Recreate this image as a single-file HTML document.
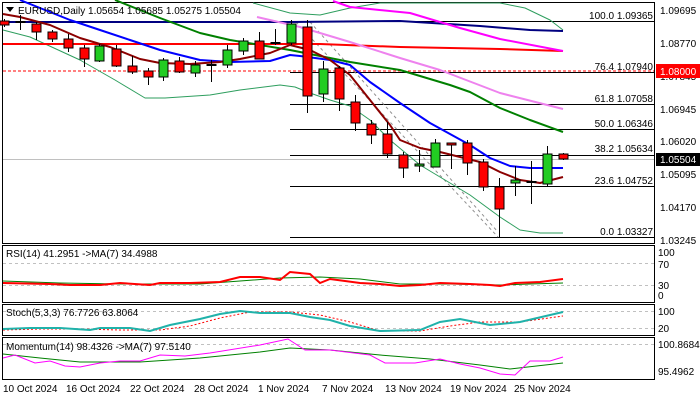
<!DOCTYPE html>
<html><head><meta charset="utf-8"><style>
body{margin:0;background:#fff}
svg{display:block;font-family:"Liberation Sans",sans-serif}
text{font-size:10px}
</style></head><body>
<svg width="700" height="400" viewBox="0 0 700 400" xmlns="http://www.w3.org/2000/svg">
<rect width="700" height="400" fill="#fff"/>
<!-- panels -->
<rect x="2.5" y="2.5" width="652" height="241" fill="none" stroke="#000"/>
<rect x="2.5" y="245.5" width="652" height="57" fill="none" stroke="#000"/>
<rect x="2.5" y="304.5" width="652" height="31" fill="none" stroke="#000"/>
<rect x="2.5" y="337.5" width="652" height="42" fill="none" stroke="#000"/>
<!-- price lines -->
<line x1="3" y1="159.5" x2="654" y2="159.5" stroke="#c0c0c0"/>
<line x1="3" y1="71" x2="654" y2="71" stroke="#f00" stroke-dasharray="3,2"/>
<!-- fib lines -->
<g stroke="#000" stroke-width="1">
<line x1="290" y1="21.5" x2="654" y2="21.5"/>
<line x1="290" y1="72.5" x2="654" y2="72.5"/>
<line x1="290" y1="104.5" x2="654" y2="104.5"/>
<line x1="290" y1="129.5" x2="654" y2="129.5"/>
<line x1="290" y1="155.5" x2="654" y2="155.5"/>
<line x1="290" y1="186.5" x2="654" y2="186.5"/>
<line x1="290" y1="237.5" x2="654" y2="237.5"/>
</g>
<g fill="#000" text-anchor="end">
<text x="653" y="19">100.0 1.09365</text>
<text x="653" y="70">76.4 1.07940</text>
<text x="653" y="102">61.8 1.07058</text>
<text x="653" y="127">50.0 1.06346</text>
<text x="653" y="152">38.2 1.05634</text>
<text x="653" y="184">23.6 1.04752</text>
<text x="653" y="235">0.0 1.03327</text>
</g>
<g stroke="#909090" stroke-dasharray="3,3" fill="none">
<line x1="296" y1="22" x2="498" y2="237"/>
<line x1="310" y1="22" x2="498" y2="232"/>
</g>
<!-- MAs -->
<g fill="none" stroke-linejoin="round">
<polyline stroke="#2e9e5e" stroke-width="1" points="3,30 30,37 80,60 115,80 145,98 165,98 210,95 240,90 280,85 295,87 310,93 330,100 350,106 370,120 390,140 420,165 450,183 470,195 500,217 520,230 540,233 563,233"/>
<polyline stroke="#2e9e5e" stroke-width="1" points="253,3 290,13 320,15 350,8 380,3 500,3 525,8 550,20 563,30"/>
<polyline stroke="#000080" stroke-width="2" points="3,22 290,22 400,21 480,26 530,30 563,31"/>
<polyline stroke="#ff0000" stroke-width="2" points="3,44 320,44 400,47 500,49 563,51"/>
<polyline stroke="#ff00ff" stroke-width="2" points="333,1 350,7 410,13 460,28 500,39 563,51"/>
<polyline stroke="#ee82ee" stroke-width="2" points="257,17 300,27 350,42 400,58 440,70 500,93 563,109"/>
<polyline stroke="#008000" stroke-width="2" points="115,0 160,18 200,33 230,40 290,50 350,62 400,70 450,85 470,92 500,108 530,120 563,132"/>
<polyline stroke="#0000ff" stroke-width="2" points="20,0 45,10 70,20 100,30 130,40 160,50 200,60 230,62 270,61 290,55 300,56 330,60 350,65 370,82 400,103 430,123 450,134 470,145 490,158 510,166 530,168 563,168"/>
<polyline stroke="#8b0000" stroke-width="2" points="3,14 20,17 50,25 80,38 110,47 140,59 160,63 190,64 220,62 240,59 270,53 290,45 310,50 330,60 350,75 370,100 390,125 400,140 420,148 440,152 460,157 480,162 500,172 520,180 540,183 563,177"/>
</g>
<!-- candles -->
<g stroke="#000" stroke-width="1" id="c">
<line x1="4.5" y1="19" x2="4.5" y2="27"/><rect x="0" y="21" width="9" height="4" fill="#f00"/>
<line x1="20.5" y1="15" x2="20.5" y2="30"/><rect x="16" y="21.5" width="9" height="1" fill="#2c2"/>
<line x1="36.5" y1="22" x2="36.5" y2="40"/><rect x="32" y="24" width="9" height="8" fill="#f00"/>
<line x1="52.5" y1="30" x2="52.5" y2="42"/><rect x="48" y="32" width="9" height="7" fill="#f00"/>
<line x1="68.5" y1="34" x2="68.5" y2="52"/><rect x="64" y="39" width="9" height="9" fill="#f00"/>
<line x1="84.5" y1="45" x2="84.5" y2="67"/><rect x="80" y="48" width="9" height="11" fill="#f00"/>
<line x1="99.5" y1="44" x2="99.5" y2="62"/><rect x="95" y="46" width="9" height="15" fill="#2c2"/>
<line x1="116.5" y1="45" x2="116.5" y2="67"/><rect x="112" y="49" width="9" height="17" fill="#f00"/>
<line x1="132.5" y1="56" x2="132.5" y2="74"/><rect x="128" y="66" width="9" height="6" fill="#f00"/>
<line x1="148.5" y1="68" x2="148.5" y2="85"/><rect x="144" y="71" width="9" height="6" fill="#f00"/>
<line x1="163.5" y1="58" x2="163.5" y2="81"/><rect x="159" y="60" width="9" height="17" fill="#2c2"/>
<line x1="179.5" y1="57" x2="179.5" y2="73"/><rect x="175" y="61" width="9" height="11" fill="#f00"/>
<line x1="195.5" y1="61" x2="195.5" y2="77"/><rect x="191" y="65" width="9" height="8" fill="#2c2"/>
<line x1="211.5" y1="60" x2="211.5" y2="82"/><rect x="207" y="64.5" width="9" height="1" fill="#2c2"/>
<line x1="227.5" y1="45" x2="227.5" y2="68"/><rect x="223" y="50" width="9" height="15" fill="#2c2"/>
<line x1="243.5" y1="38" x2="243.5" y2="55"/><rect x="239" y="41" width="9" height="10" fill="#2c2"/>
<line x1="259.5" y1="32" x2="259.5" y2="59"/><rect x="255" y="41" width="9" height="18" fill="#f00"/>
<line x1="275.5" y1="29" x2="275.5" y2="45"/><rect x="271" y="42.5" width="9" height="1" fill="#2c2"/>
<line x1="291.5" y1="20" x2="291.5" y2="45"/><rect x="287" y="24" width="9" height="19" fill="#2c2"/>
<line x1="307.5" y1="20" x2="307.5" y2="113"/><rect x="303" y="27" width="9" height="69" fill="#f00"/>
<line x1="323.5" y1="61" x2="323.5" y2="102"/><rect x="319" y="69" width="9" height="25" fill="#2c2"/>
<line x1="339.5" y1="66" x2="339.5" y2="111"/><rect x="335" y="68" width="9" height="31" fill="#f00"/>
<line x1="355.5" y1="95" x2="355.5" y2="131"/><rect x="351" y="102" width="9" height="21" fill="#f00"/>
<line x1="371.5" y1="120" x2="371.5" y2="144"/><rect x="367" y="124" width="9" height="11" fill="#f00"/>
<line x1="387.5" y1="122" x2="387.5" y2="158"/><rect x="383" y="134" width="9" height="20" fill="#f00"/>
<line x1="403.5" y1="152" x2="403.5" y2="178"/><rect x="399" y="155" width="9" height="13" fill="#f00"/>
<line x1="419.5" y1="150" x2="419.5" y2="172"/><rect x="415" y="164" width="9" height="2" fill="#2c2"/>
<line x1="435.5" y1="139" x2="435.5" y2="167"/><rect x="431" y="143" width="9" height="24" fill="#2c2"/>
<line x1="451.5" y1="143" x2="451.5" y2="169"/><rect x="447" y="143" width="9" height="2" fill="#f00"/>
<line x1="467.5" y1="140" x2="467.5" y2="175"/><rect x="463" y="143" width="9" height="20" fill="#f00"/>
<line x1="483.5" y1="159" x2="483.5" y2="191"/><rect x="479" y="162" width="9" height="25" fill="#f00"/>
<line x1="499.5" y1="178" x2="499.5" y2="237"/><rect x="495" y="187" width="9" height="22" fill="#f00"/>
<line x1="515.5" y1="166" x2="515.5" y2="196"/><rect x="511" y="180" width="9" height="3" fill="#2c2"/>
<line x1="531.5" y1="161" x2="531.5" y2="204"/><rect x="527" y="181.5" width="9" height="1" fill="#f00"/>
<line x1="547.5" y1="146" x2="547.5" y2="186"/><rect x="543" y="154" width="9" height="30" fill="#2c2"/>
<line x1="563.5" y1="153" x2="563.5" y2="160"/><rect x="559" y="154" width="9" height="5" fill="#f00"/>
</g>
<text x="18" y="14" fill="#000">EURUSD,Daily  1.05654 1.05685 1.05275 1.05504</text>
<path d="M6 7 L14 7 L10 12 Z" fill="#000"/>
<!-- right axis -->
<g fill="#000">
<text x="660" y="14">1.09695</text>
<text x="660" y="47">1.08770</text>
<text x="660" y="80">1.07845</text>
<text x="660" y="113">1.06945</text>
<text x="660" y="145">1.06020</text>
<text x="660" y="178">1.05095</text>
<text x="660" y="211">1.04170</text>
<text x="660" y="244">1.03245</text>
</g>
<rect x="656" y="64" width="44" height="14" fill="#f00"/>
<text x="660" y="75" fill="#fff">1.08000</text>
<rect x="656" y="153" width="44" height="13" fill="#000"/>
<text x="660" y="163" fill="#fff">1.05504</text>
<!-- RSI -->
<g stroke="#c0c0c0" stroke-dasharray="3,3">
<line x1="3" y1="263.5" x2="654" y2="263.5"/><line x1="3" y1="285.5" x2="654" y2="285.5"/>
<line x1="3" y1="311.5" x2="654" y2="311.5"/><line x1="3" y1="328.5" x2="654" y2="328.5"/>
<line x1="3" y1="344.5" x2="654" y2="344.5"/>
</g>
<polyline fill="none" stroke="#008000" stroke-width="1" points="3,281 60,283 120,284 200,284 240,281 280,278 320,277 360,279 400,284 450,284 500,285 530,284 563,283"/>
<polyline fill="none" stroke="#f00" stroke-width="2" points="3,283 50,284 70,285 100,285 120,283 150,285 160,283 190,283 220,282 240,277 260,277 280,280 290,272 310,274 320,283 330,279 360,283 380,284 400,286 420,285 440,283 470,284 490,285 500,286 515,283 540,282 563,279"/>
<text x="6" y="257" fill="#000">RSI(14) 41.2951  -&gt;MA(7) 34.4988</text>
<g fill="#000"><text x="658" y="256">100</text><text x="658" y="268">70</text><text x="658" y="289">30</text><text x="658" y="299">0</text></g>
<!-- Stoch -->
<polyline fill="none" stroke="#f00" stroke-dasharray="2,2" points="3,330 40,329 80,329 120,330 160,330 190,326 220,318 250,312 290,312 320,315 350,322 380,331 420,331 450,326 480,322 520,322 563,316"/>
<polyline fill="none" stroke="#20b2aa" stroke-width="2" points="3,329 30,328 60,328 90,330 100,328 130,328 150,331 170,325 200,319 220,314 240,311 260,313 290,313 310,317 330,320 350,326 380,331 420,330 440,322 460,319 490,325 520,322 563,312"/>
<text x="6" y="316" fill="#000">Stoch(5,3,3) 76.7726 63.8064</text>
<g fill="#000"><text x="658" y="315">100</text><text x="658" y="332">20</text></g>
<!-- Momentum -->
<polyline fill="none" stroke="#008000" points="3,354 40,358 80,362 140,362 200,358 260,352 290,348 330,350 380,355 430,359 480,365 510,369 563,363"/>
<polyline fill="none" stroke="#f0f" points="3,358 15,355 35,363 50,361 65,366 80,367 100,363 120,361 140,361 160,355 185,356 210,353 260,345 288,339 305,350 330,350 370,355 385,363 415,363 440,359 460,364 480,368 500,374 515,375 530,361 550,361 563,357"/>
<text x="6" y="350" fill="#000">Momentum(14) 98.4326  -&gt;MA(7) 97.5140</text>
<g fill="#000"><text x="658" y="348">100.8684</text><text x="658" y="375">95.4962</text></g>
<!-- dates -->
<g fill="#000">
<text x="3" y="392">10 Oct 2024</text>
<text x="66" y="392">16 Oct 2024</text>
<text x="130" y="392">22 Oct 2024</text>
<text x="194" y="392">28 Oct 2024</text>
<text x="258" y="392">1 Nov 2024</text>
<text x="322" y="392">7 Nov 2024</text>
<text x="385" y="392">13 Nov 2024</text>
<text x="450" y="392">19 Nov 2024</text>
<text x="514" y="392">25 Nov 2024</text>
</g>
</svg>
</body></html>
